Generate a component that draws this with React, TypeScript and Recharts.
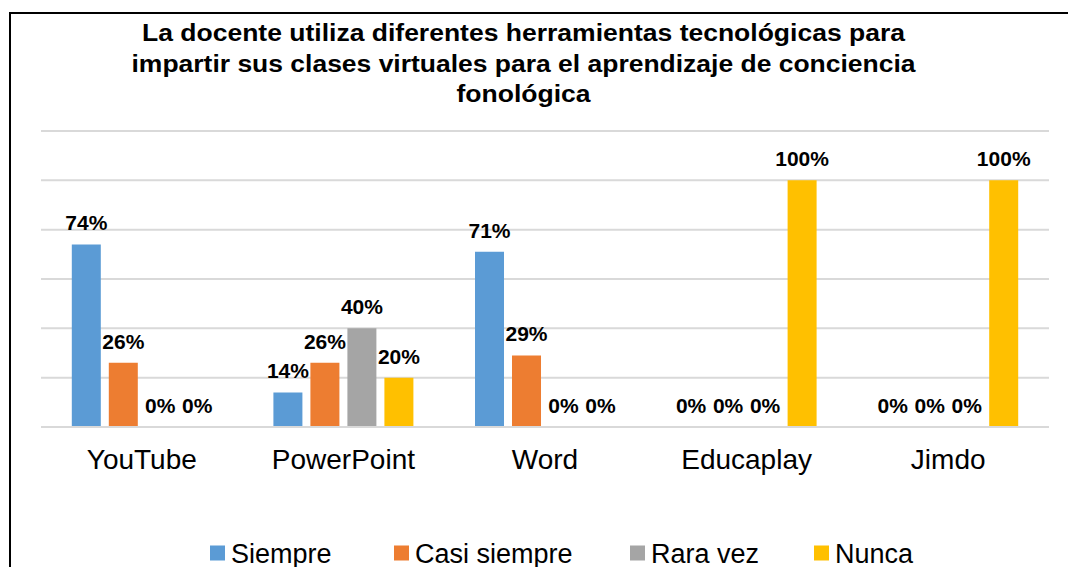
import React from "react";
import { BarChart, Bar, XAxis, YAxis, CartesianGrid, LabelList } from "recharts";

const categories = ["YouTube", "PowerPoint", "Word", "Educaplay", "Jimdo"];
const siempre = [74, 14, 71, 0, 0];
const casiSiempre = [26, 26, 29, 0, 0];
const raraVez = [0, 40, 0, 0, 0];
const nunca = [0, 20, 0, 100, 100];
const yTicks = [0, 20, 40, 60, 80, 100, 120];

const seriesNames = ["Siempre", "Casi siempre", "Rara vez", "Nunca"];
const seriesKeys = ["siempre", "casiSiempre", "raraVez", "nunca"];
const seriesColors = ["#5B9BD5", "#ED7D31", "#A5A5A5", "#FFC000"];
const legendLefts = [210, 394, 630, 814];

const titleLines = [
  "La docente utiliza diferentes herramientas tecnológicas para",
  "impartir sus clases virtuales para el aprendizaje de conciencia",
  "fonológica",
];
const titleWidths = [763, 784, 134];

const data = categories.map((c, i) => ({
  name: c,
  siempre: siempre[i],
  casiSiempre: casiSiempre[i],
  raraVez: raraVez[i],
  nunca: nunca[i],
}));

const FONT = "'Liberation Sans', Arial, sans-serif";

export default function App() {
  return (
    <div
      style={{
        position: "fixed",
        left: 0,
        top: 0,
        width: 1068,
        height: 567,
        overflow: "hidden",
        background: "#fff",
        fontFamily: FONT,
      }}
    >
      <div
        style={{
          position: "absolute",
          left: 9,
          top: 12,
          width: 1200,
          height: 700,
          border: "2px solid #000",
          boxSizing: "border-box",
        }}
      />
      <div style={{ position: "absolute", left: 0, top: 0 }}>
        <BarChart
          width={1068}
          height={567}
          data={data}
          margin={{ top: 131, right: 19, bottom: 100, left: 41 }}
          barCategoryGap="15.28%"
          barGap={8}
        >
          <CartesianGrid vertical={false} stroke="#d9d9d9" strokeWidth={2} />
          <YAxis hide domain={[0, 120]} ticks={yTicks} />
          <XAxis
            dataKey="name"
            height={40}
            axisLine={{ stroke: "#d9d9d9", strokeWidth: 2 }}
            tickLine={false}
            tick={{ fontSize: 28, fill: "#000", fontFamily: FONT }}
            dy={14}
          />
          {seriesKeys.map((k, i) => (
            <Bar
              key={k}
              dataKey={k}
              name={seriesNames[i]}
              fill={seriesColors[i]}
              minPointSize={0.01}
              isAnimationActive={false}
            >
              <LabelList
                dataKey={k}
                position="top"
                offset={14}
                formatter={(v: number) => `${v}%`}
                style={{ fontSize: 21, fontWeight: "bold", fill: "#000", fontFamily: FONT }}
              />
            </Bar>
          ))}
        </BarChart>
      </div>
      <svg width={1068} height={567} style={{ position: "absolute", left: 0, top: 0, pointerEvents: "none" }}>
        {titleLines.map((t, i) => (
          <text
            key={i}
            x={523.5}
            y={41 + i * 30.5}
            textAnchor="middle"
            fontSize={23}
            fontWeight="bold"
            fontFamily={FONT}
            fill="#000"
            textLength={titleWidths[i]}
            lengthAdjust="spacingAndGlyphs"
          >
            {t}
          </text>
        ))}
        {seriesNames.map((n, i) => (
          <g key={n}>
            <rect x={legendLefts[i]} y={545.5} width={15} height={15} fill={seriesColors[i]} />
            <text x={legendLefts[i] + 21} y={563} fontSize={27} fontFamily={FONT} fill="#000">
              {n}
            </text>
          </g>
        ))}
      </svg>
    </div>
  );
}
